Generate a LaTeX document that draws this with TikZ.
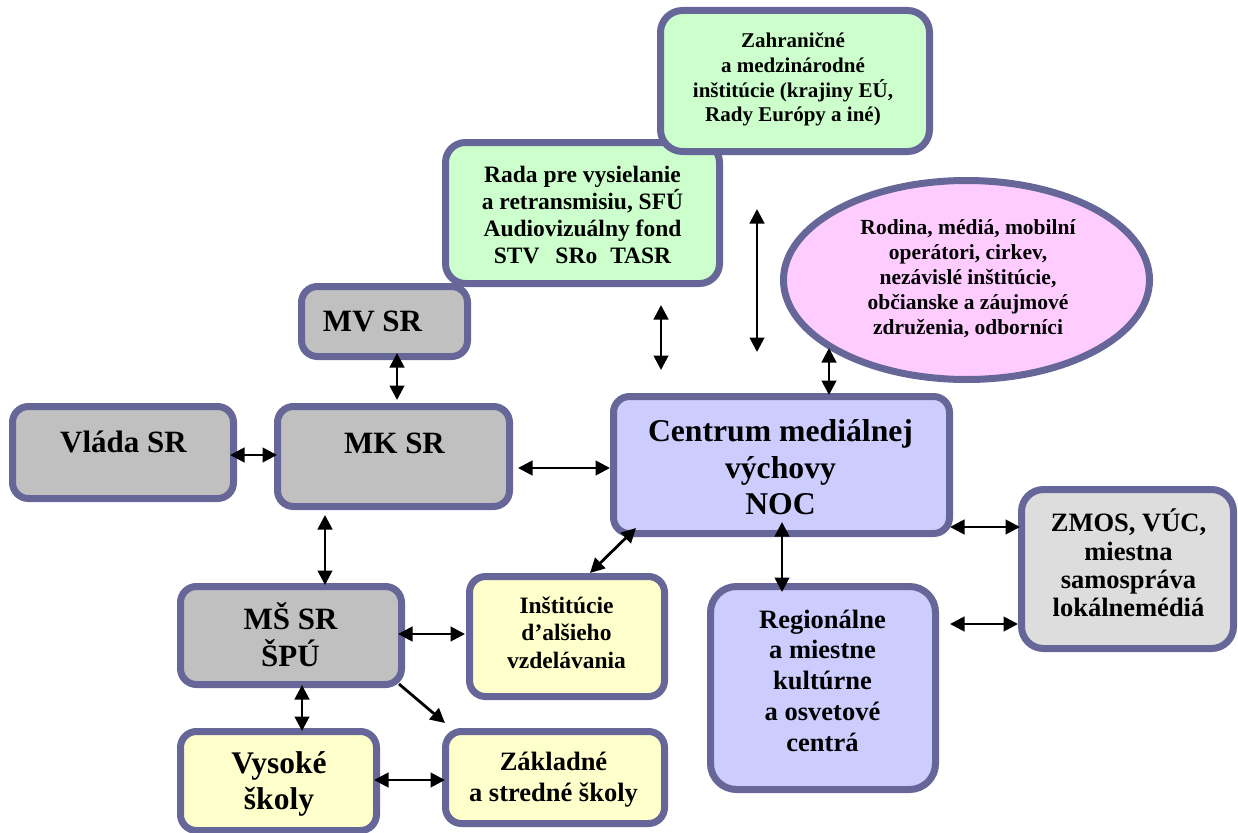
\documentclass[tikz,border=0pt]{standalone}
\usepackage{fontspec}
\setmainfont{Liberation Serif}
\usetikzlibrary{arrows.meta,calc,shapes.geometric}
\definecolor{bord}{HTML}{666699}
\definecolor{grayF}{HTML}{C0C0C0}
\definecolor{lgrayF}{HTML}{DDDDDD}
\definecolor{greenF}{HTML}{CCFFCC}
\definecolor{lavF}{HTML}{CCCCFF}
\definecolor{pinkF}{HTML}{FFCCFF}
\definecolor{yelF}{HTML}{FFFFCC}
\newcommand\fsz[2]{\fontsize{#1}{#2}\selectfont\lineskiplimit=-100pt\relax\bfseries}
\newcommand\Ft{\rule{0pt}{1em}}
\newcommand\Fb{\rule[-0.25em]{0pt}{0.25em}}
\tikzset{
  box/.style={draw=bord, line width=7pt, rounded corners=16pt, inner sep=0pt, outer sep=0pt},
  lbl/.style={align=center, inner sep=0pt, outer sep=0pt, text=black},
  arr/.style={line width=2.8pt, {Triangle[length=14.5pt,width=14.5pt]}-{Triangle[length=14.5pt,width=14.5pt]}},
  arrone/.style={line width=2.8pt, -{Triangle[length=14.5pt,width=14.5pt]}},
}
\begin{document}
\begin{tikzpicture}[x=1pt,y=-1pt]
\useasboundingbox (0,0) rectangle (1238,832);
% boxes
\node[box, fill=greenF, rounded corners=20pt, minimum width=274pt, minimum height=141pt] (rada) at (582.5,213) {};
\node[box, fill=greenF, rounded corners=22pt, minimum width=269pt, minimum height=141pt] (zah) at (795,81) {};
\node[box, fill=grayF, minimum width=166pt, minimum height=70pt] (mv) at (384.5,321.5) {};
\node[box, fill=grayF, minimum width=221pt, minimum height=92pt] (vlada) at (123,452.5) {};
\node[box, fill=grayF, minimum width=232pt, minimum height=100pt] (mk) at (393.5,456.5) {};
\node[box, fill=lavF, minimum width=336pt, minimum height=137pt] (cmv) at (781.5,465) {};
\node[draw=bord, line width=7pt, ellipse, fill=pinkF, minimum width=366pt, minimum height=199pt, inner sep=0pt, outer sep=0pt] (ell) at (966.5,280) {};
\node[box, fill=lgrayF, rounded corners=22pt, minimum width=212pt, minimum height=159pt] (zmos) at (1127.5,569) {};
\node[box, fill=grayF, minimum width=221pt, minimum height=98pt] (ms) at (291,635.5) {};
\node[box, fill=yelF, minimum width=195pt, minimum height=120pt] (inst) at (567,636.5) {};
\node[box, fill=lavF, rounded corners=26pt, minimum width=225pt, minimum height=203pt] (reg) at (823,688) {};
\node[box, fill=yelF, minimum width=196pt, minimum height=99pt] (vys) at (278.5,781) {};
\node[box, fill=yelF, minimum width=219pt, minimum height=92pt] (zak) at (555,777.5) {};
% texts
\node[lbl, font=\fsz{21}{24.6}] (tzah) at (793,77) {\Ft Zahraničné\\a medzinárodné\\inštitúcie (krajiny EÚ,\\Rady Európy a iné)\Fb};
\node[lbl, font=\fsz{23.5}{27.2}] (trada) at (582.5,214) {\Ft Rada pre vysielanie\\a retransmisiu, SFÚ\\Audiovizuálny fond\\STV\hspace{16pt}SRo\hspace{13pt}TASR\Fb};
\node[lbl, font=\fsz{31}{36}] (tmv) at (372.5,319.4) {\Ft MV SR\Fb};
\node[lbl, font=\fsz{31}{36}] (tvlada) at (123.5,440.4) {\Ft Vláda SR\Fb};
\node[lbl, font=\fsz{31}{36}] (tmk) at (394.5,441.4) {\Ft MK SR\Fb};
\node[lbl, font=\fsz{31.7}{36.5}] (tcmv) at (780.5,466.6) {\Ft Centrum mediálnej\\výchovy\\NOC\Fb};
\node[lbl, font=\fsz{21.5}{25}] (tell) at (968,276.9) {\Ft Rodina, médiá, mobilní\\operátori, cirkev,\\nezávislé inštitúcie,\\občianske a záujmové\\združenia, odborníci\Fb};
\node[lbl, font=\fsz{26.5}{28.3}] (tzmos) at (1128.5,564.5) {\Ft ZMOS, VÚC,\\miestna\\samospráva\\lokálnemédiá\Fb};
\node[lbl, font=\fsz{31}{37}] (tms) at (290.5,635.9) {\Ft MŠ SR\\ŠPÚ\Fb};
\node[lbl, font=\fsz{23.5}{27.5}] (tinst) at (566.5,631.7) {\Ft Inštitúcie\\d’alšieho\\vzdelávania\Fb};
\node[lbl, font=\fsz{26.5}{30.8}] (treg) at (822.5,679.7) {\Ft Regionálne\\a miestne\\kultúrne\\a osvetové\\centrá\Fb};
\node[lbl, font=\fsz{31.5}{36}] (tvys) at (279,779.2) {\Ft Vysoké\\školy\Fb};
\node[lbl, font=\fsz{26.5}{31}] (tzak) at (553.5,775.6) {\Ft Základné\\a stredné školy\Fb};
% connectors
\draw[arr] ($(mv.south)+(12.5,-3.5)$) -- ($(mk.north)+(3.5,-6.5)$);
\draw[arr] ($(vlada.east)+(-3.5,2.5)$) -- ($(mk.west)+(-0.5,-1.5)$);
\draw[arr] ($(mk.east)+(8.5,11.5)$) -- ($(cmv.west)+(-3.5,3)$);
\draw[arr] ($(mk.south)+(-68.5,8.5)$) -- ($(ms.north)+(34,-1.5)$);
\draw[arr] ($(ms.east)+(-3.5,-1.5)$) -- ($(inst.west)+(-4.5,-2.5)$);
\draw[arr] ($(ms.south)+(11,0.5)$) -- ($(vys.north)+(23.5,-0.5)$);
\draw[arrone] ($(ms.south east)+(-2.5,-0.5)$) -- ($(zak.north west)+(-0.5,-8.5)$);
\draw[arr] ($(vys.east)+(-2.5,-1)$) -- ($(zak.west)+(-0.5,2.5)$);
\draw[arr] ($(cmv.south west)+(22.5,-5.5)$) -- ($(inst.north)+(23,-3.5)$);
\draw[arr] ($(cmv.south)+(0.5,-11.5)$) -- ($(reg.north)+(-41,5.5)$);
\draw[arr] ($(cmv.east)+(0.5,62)$) -- ($(zmos.west)+(-1.5,-42)$);
\draw[arr] ($(reg.east)+(14.5,-64)$) -- ($(zmos.west)+(-3.5,55)$);
\draw[arr] ($(rada.south)+(78.5,21.5)$) -- ($(cmv.north)+(-120.5,-26.5)$);
\draw[arr] ($(zah.south)+(-38,57.5)$) -- ($(cmv.north)+(-24.5,-44.5)$);
\draw[arr] ($(ell.south)+(-137.5,-31.5)$) -- ($(cmv.north)+(47.5,-1.5)$);
\end{tikzpicture}
\end{document}
